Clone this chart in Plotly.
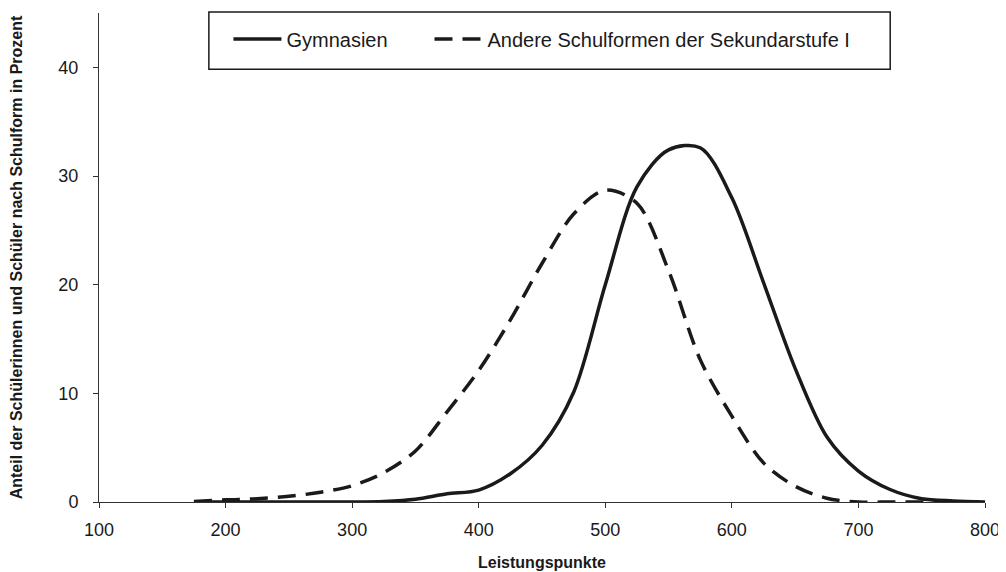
import plotly.graph_objects as go

x_points = [175, 200, 225, 250, 275, 300, 325, 350, 375, 400, 425, 450, 475,
            500, 525, 550, 575, 600, 625, 650, 675, 700, 725, 750, 775, 800]

gymnasien = [0.0, 0.0, 0.0, 0.0, 0.0, 0.0, 0.05, 0.25, 0.75, 1.1, 2.6, 5.2, 10.1,
             20.0, 29.0, 32.4, 32.6, 28.0, 20.2, 12.3, 6.0, 2.85, 1.15, 0.3, 0.1, 0.0]

andere = [0.05, 0.2, 0.3, 0.52, 0.9, 1.5, 2.7, 4.7, 8.3, 12.1, 16.75, 21.95, 26.5,
          28.7, 27.5, 21.3, 13.1, 7.9, 3.6, 1.45, 0.35, 0.0, 0.0, 0.0, 0.0, 0.0]

series_names = ["Gymnasien", "Andere Schulformen der Sekundarstufe I"]
x_ticks = [100, 200, 300, 400, 500, 600, 700, 800]
y_ticks = [0, 10, 20, 30, 40]

x_title = "Leistungspunkte"
y_title = "Anteil der Schülerinnen und Schüler nach Schulform in Prozent"

FONT = "Liberation Sans, Arial, sans-serif"
INK = "#1a1a1a"
AXIS = "#333333"

fig = go.Figure()
fig.add_trace(go.Scatter(x=x_points, y=gymnasien, mode="lines", name=series_names[0],
                         legend="legend",
                         line=dict(color=INK, width=3.5, shape="spline", smoothing=0.9)))
fig.add_trace(go.Scatter(x=x_points, y=andere, mode="lines", name=series_names[1],
                         legend="legend2",
                         line=dict(color=INK, width=3.5, dash="18px,10px", shape="spline", smoothing=0.9)))

# legend frame
fig.add_shape(type="rect", xref="paper", yref="paper", x0=0.124, x1=0.893, y0=0.885, y1=1.002,
              line=dict(color=INK, width=1.5), fillcolor="white", layer="below")

legend_common = dict(orientation="h", yanchor="middle", xanchor="left",
                     bgcolor="rgba(0,0,0,0)", borderwidth=0, itemwidth=48,
                     font=dict(family=FONT, size=20, color=INK))

# page body adds an 8px margin, so the figure is sized to fit the remaining window
fig.update_layout(
    width=998, height=564,
    margin=dict(l=91, r=21, t=5, b=70),
    paper_bgcolor="white", plot_bgcolor="white",
    font=dict(family=FONT, size=18, color=INK),
    showlegend=True,
    legend=dict(x=0.1461, y=0.947, **legend_common),
    legend2=dict(x=0.3730, y=0.947, **legend_common),
    xaxis=dict(range=[100, 800], tickvals=x_ticks, showgrid=False, zeroline=False,
               showline=True, linecolor=AXIS, linewidth=1,
               ticks="outside", ticklen=5, tickcolor=AXIS, ticklabelstandoff=6,
               automargin=False,
               title=dict(text=x_title, font=dict(family=FONT, size=16, color=INK, weight="bold"), standoff=18)),
    yaxis=dict(range=[0, 45], tickvals=y_ticks, showgrid=False, zeroline=False,
               showline=True, linecolor=AXIS, linewidth=1,
               ticks="outside", ticklen=5, tickcolor=AXIS, ticklabelstandoff=11,
               automargin=False,
               title=dict(text=y_title, font=dict(family=FONT, size=16, color=INK, weight="bold"), standoff=31)),
)

fig.write_html("out.html")
